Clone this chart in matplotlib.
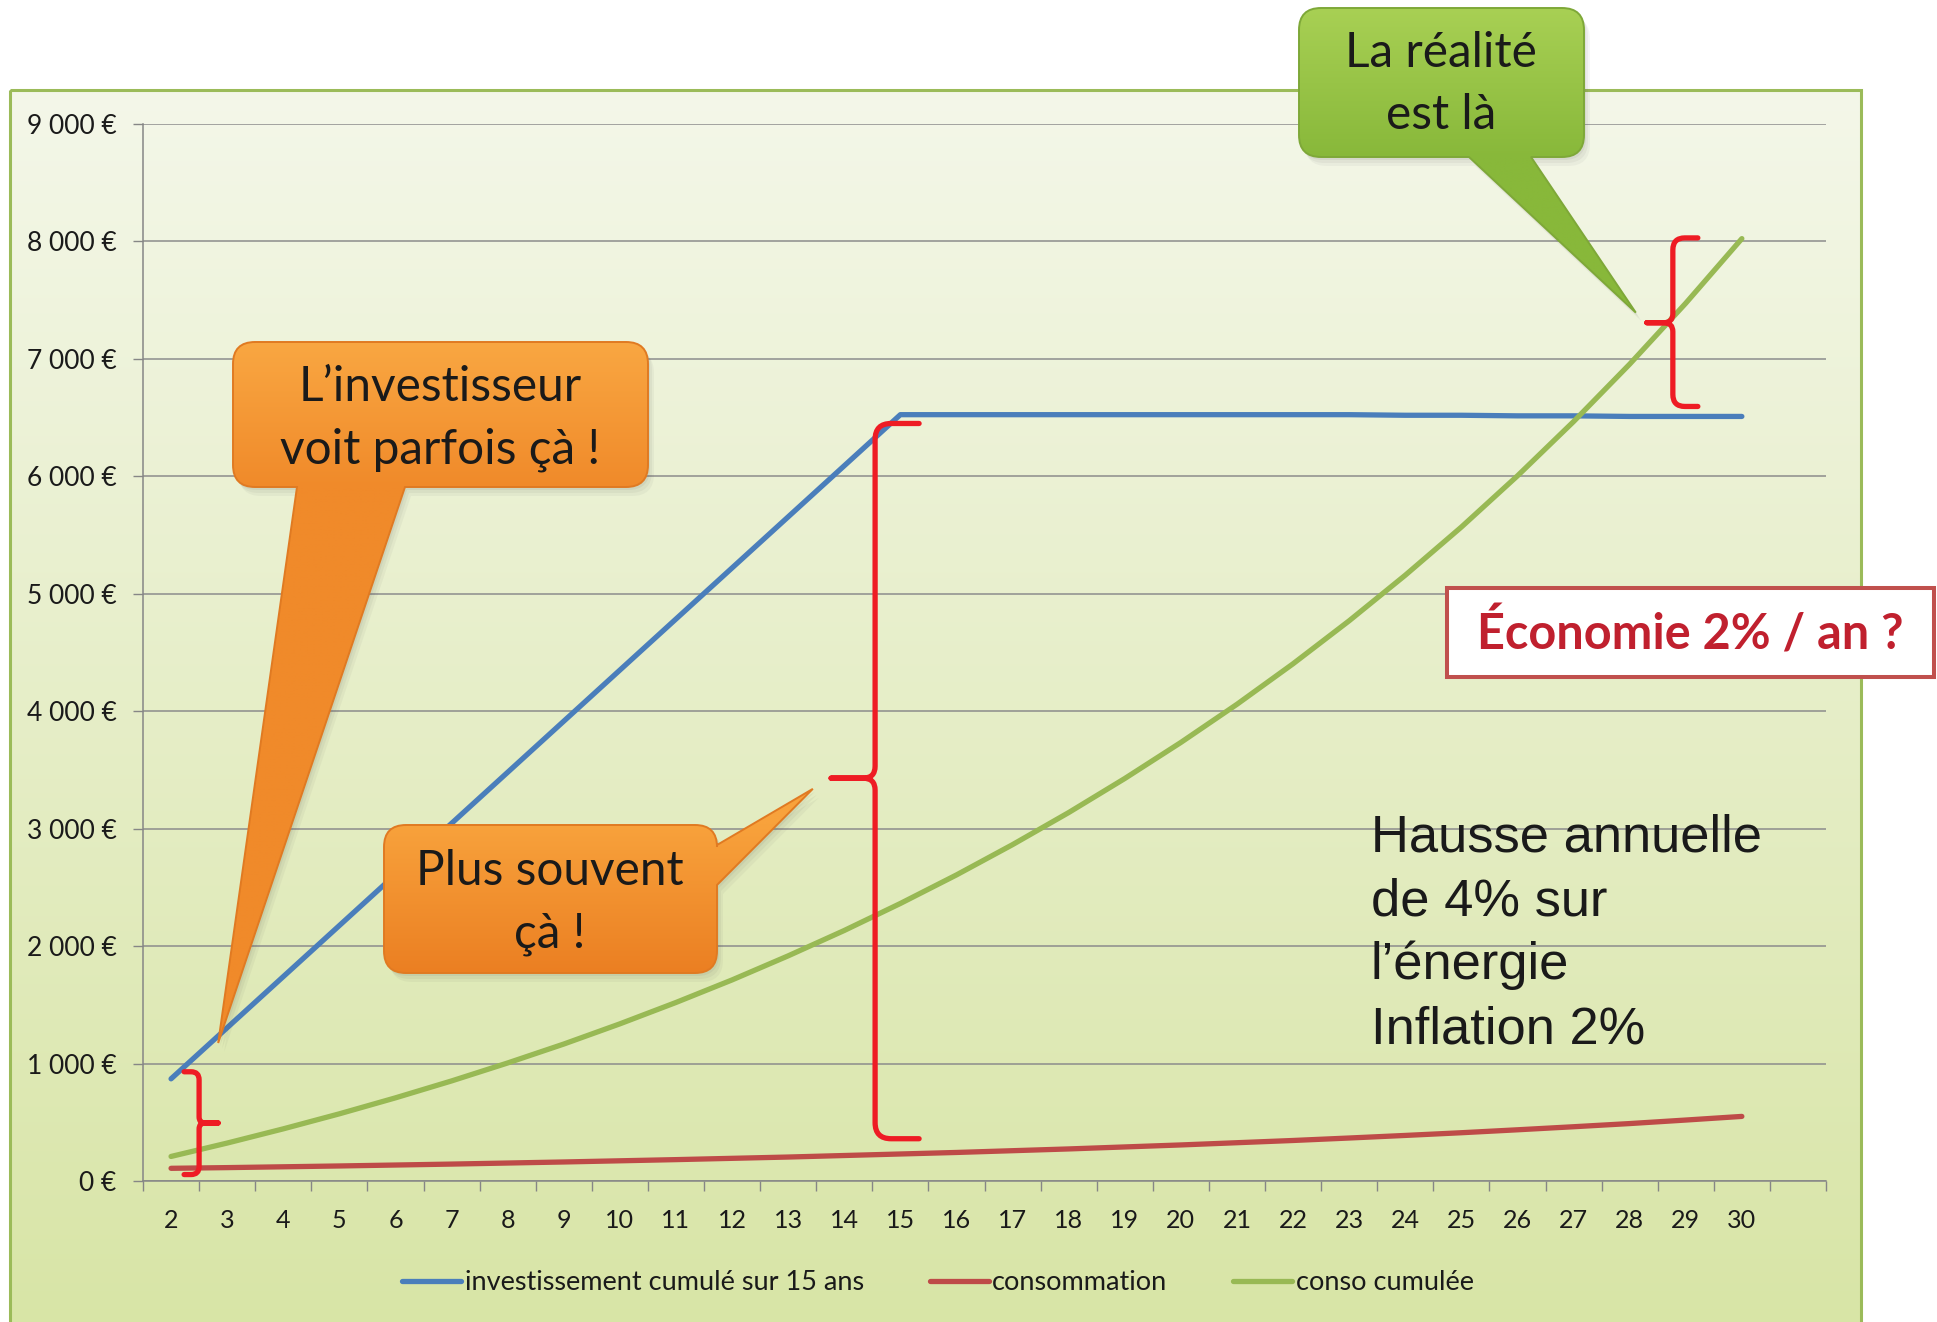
import numpy as np
import matplotlib
matplotlib.use("Agg")
import matplotlib.pyplot as plt
from matplotlib.path import Path
from matplotlib.patches import PathPatch, Rectangle
from matplotlib.transforms import Affine2D
from matplotlib.colors import to_rgb

# ---- data -------------------------------------------------------------
annees = [2, 3, 4, 5, 6, 7, 8, 9, 10, 11, 12, 13, 14, 15, 16,
          17, 18, 19, 20, 21, 22, 23, 24, 25, 26, 27, 28, 29, 30]
investissement = [870, 1305, 1740, 2175, 2610, 3045, 3480, 3915, 4350, 4785,
                  5220, 5655, 6090, 6525, 6525, 6525, 6525, 6525, 6525, 6525,
                  6525, 6525, 6520, 6520, 6515, 6515, 6510, 6510, 6510]
consommation = [108, 114, 121, 128, 136, 144, 153, 162, 172, 182,
                193, 204, 217, 230, 243, 258, 273, 290, 307, 326,
                345, 366, 388, 411, 436, 462, 489, 519, 550]
conso_cumulee = [209, 323, 444, 572, 708, 852, 1005, 1166, 1338, 1520,
                 1712, 1917, 2133, 2363, 2606, 2864, 3137, 3427, 3734, 4059,
                 4404, 4770, 5158, 5568, 6004, 6466, 6955, 7474, 8024]
y_ticks = [0, 1000, 2000, 3000, 4000, 5000, 6000, 7000, 8000, 9000]
series_labels = ["investissement cumulé sur 15 ans", "consommation", "conso cumulée"]
series_colors = ["#4A7EBB", "#BE4B48", "#98B954"]

W, H = 1937, 1322
plt.rcParams['font.family'] = ['Lato', 'DejaVu Sans']

fig = plt.figure(figsize=(W / 100, H / 100), dpi=100)
fig.patch.set_facecolor('white')
renderer = fig.canvas.get_renderer()


def fit_size(text, target_px, **kw):
    t = fig.text(0, 0, text, fontsize=20, **kw)
    w = t.get_window_extent(renderer).width
    t.remove()
    return 20 * target_px / w


def vgrad(c_top, c_bot, n=256):
    a = np.array(to_rgb(c_top))
    b = np.array(to_rgb(c_bot))
    t = np.linspace(0, 1, n)[:, None, None]
    return a + (b - a) * t


# ---- background frame ------------------------------------------------------
bg = fig.add_axes([0, 0, 1, 1], zorder=0)
bg.axis('off')
bg.set_xlim(0, W)
bg.set_ylim(H, 0)
bg.imshow(vgrad('#F4F7E9', '#D8E5A6'), extent=(10, 1861, 1330, 90),
          aspect='auto', interpolation='bilinear')
bg.add_patch(Rectangle((10, 90), 1851, 1260, fill=False, ec='#9BBB59', lw=2.2))

# ---- main chart ----------------------------------------------------------
ax = fig.add_axes([143 / W, 1 - 1181 / H, (1826 - 143) / W, (1181 - 124) / H], zorder=1)
ax.patch.set_alpha(0)
for vals, col, lab in zip([investissement, consommation, conso_cumulee],
                          series_colors, series_labels):
    ax.plot(annees, vals, color=col, lw=3.8, solid_capstyle='round', zorder=3, label=lab)

ax.set_xlim(1.5, 31.5)
ax.set_ylim(0, 9000)

sy = fit_size("9 000 €", 90)
sx = fit_size("20", 29)
ax.set_yticks(y_ticks)
ax.set_yticklabels([f"{v:,}".replace(",", " ") + " €" for v in y_ticks])
ax.set_xticks(annees)
ax.set_xticklabels([str(a) for a in annees])
ax.set_xticks(np.arange(1.5, 32, 1), minor=True)
ax.tick_params(axis='x', which='major', length=0, pad=20, labelsize=sx, labelcolor='#1A1A1A')
ax.tick_params(axis='x', which='minor', length=7, width=1, color='#868686', direction='out')
ax.tick_params(axis='y', which='major', length=7, width=1, color='#868686',
               direction='out', pad=12, labelsize=sy, labelcolor='#1A1A1A')
ax.grid(axis='y', color='#8C8C8C', lw=1.1)
ax.set_axisbelow(True)
for s in ['top', 'right']:
    ax.spines[s].set_visible(False)
for s in ['left', 'bottom']:
    ax.spines[s].set_color('#868686')
    ax.spines[s].set_linewidth(1.1)

sl = fit_size(series_labels[0], 402)
fs_px = sl * 100 / 72
leg = ax.legend(loc='center', bbox_to_anchor=(938 / W, 1 - 1283 / H),
                bbox_transform=fig.transFigure, ncol=3, frameon=False, fontsize=sl,
                handlelength=59 / fs_px, handletextpad=0.12, columnspacing=66 / fs_px)
for t in leg.get_texts():
    t.set_color('#1A1A1A')


def to_px(x, y):
    X, Y = ax.transData.transform((x, y))
    return X, H - Y


# ---- annotation layer (pixel coordinates, y downwards) -------------------------
ov = fig.add_axes([0, 0, 1, 1], zorder=3)
ov.axis('off')
ov.patch.set_alpha(0)
ov.set_xlim(0, W)
ov.set_ylim(H, 0)

M, L, Q, C = Path.MOVETO, Path.LINETO, Path.CURVE3, Path.CLOSEPOLY


def callout(box, r, tail, tip, c_top, c_bot, c_edge):
    x0, y0, x1, y1 = box
    v, c = [], []

    def add(code, *pts):
        for p in pts:
            v.append(p)
            c.append(code)
    add(M, (x0 + r, y0))
    add(L, (x1 - r, y0))
    add(Q, (x1, y0), (x1, y0 + r))
    if tail[0] == 'right':
        add(L, (x1, tail[1]), tip, (x1, tail[2]))
    add(L, (x1, y1 - r))
    add(Q, (x1, y1), (x1 - r, y1))
    if tail[0] == 'bottom':
        add(L, (tail[2], y1), tip, (tail[1], y1))
    add(L, (x0 + r, y1))
    add(Q, (x0, y1), (x0, y1 - r))
    add(L, (x0, y0 + r))
    add(Q, (x0, y0), (x0 + r, y0))
    add(C, (x0 + r, y0))
    path = Path(v, c)

    for dx, dy, a in [(2, 3, 0.07), (4, 6, 0.06), (6, 9, 0.05)]:
        sp = path.transformed(Affine2D().translate(dx, dy))
        ov.add_patch(PathPatch(sp, fc=(0.3, 0.3, 0.3, a), ec='none', zorder=1))

    xs = [p[0] for p in v]
    ys = [p[1] for p in v]
    ymin, ymax = min(ys), max(ys)
    rows = np.linspace(ymin, ymax, 256)
    t = np.clip((rows - y0) / (y1 - y0), 0, 1)[:, None, None]
    a = np.array(to_rgb(c_top))
    b = np.array(to_rgb(c_bot))
    img = a + (b - a) * t
    fill = PathPatch(path, fc='none', ec='none', zorder=2)
    ov.add_patch(fill)
    im = ov.imshow(img, extent=(min(xs), max(xs), ymax, ymin), aspect='auto',
                   interpolation='bilinear', zorder=2)
    im.set_clip_path(fill)
    ov.add_patch(PathPatch(path, fc='none', ec=c_edge, lw=1.4, zorder=3))


def brace(xd, top_v, bot_v, mid_v, tip_dx, hook_dx, r, rm):
    xs, yt = to_px(xd, top_v)
    _, yb = to_px(xd, bot_v)
    _, ym = to_px(xd, mid_v)
    sh, st = np.sign(hook_dx), np.sign(tip_dx)
    verts = [(xs + hook_dx, yt), (xs + sh * r, yt), (xs, yt), (xs, yt + r),
             (xs, ym - rm), (xs, ym), (xs + st * rm, ym), (xs + tip_dx, ym),
             (xs + st * rm, ym), (xs, ym), (xs, ym + rm),
             (xs, yb - r), (xs, yb), (xs + sh * r, yb), (xs + hook_dx, yb)]
    codes = [M, L, Q, Q, L, Q, Q, L, L, Q, Q, L, Q, Q, L]
    ov.add_patch(PathPatch(Path(verts, codes), fc='none', ec='#EE1C24', lw=3.8,
                           capstyle='round', joinstyle='round', zorder=5))


# braces
brace(2.5, 930, 55, 494, 19, -15, 8, 6)
brace(14.55, 6450, 360, 3430, -44, 44, 16, 12)
brace(28.77, 8030, 6595, 7308, -26, 25, 12, 9)

# callouts
callout((233, 342, 648, 487), 22, ('bottom', 297, 405), to_px(2.84, 1175),
        '#F9A742', '#F08A2A', '#E07A22')
callout((384, 825, 717, 973), 22, ('right', 845, 885), to_px(13.44, 3339),
        '#F8A23C', '#EB7F22', '#E07A22')
callout((1299, 8, 1584, 157), 22, ('bottom', 1469, 1531), to_px(28.11, 7394),
        '#A8D054', '#88B83A', '#7EA838')

sc = fit_size("Plus souvent", 268)
txt = dict(ha='center', va='baseline', fontsize=sc, color='#1A1A1A', zorder=6)
ov.text(440, 401, "L’investisseur", **txt)
ov.text(440, 464, "voit parfois çà !", **txt)
ov.text(550, 885, "Plus souvent", **txt)
ov.text(550, 948, "çà !", **txt)
ov.text(1441, 67, "La réalité", **txt)
ov.text(1441, 129, "est là", **txt)

# savings box
ov.add_patch(Rectangle((1447, 588), 487, 89, fc='white', ec='#C0504D', lw=2.9, zorder=4))
se = fit_size("Économie 2% / an ?", 426, fontweight='bold')
ov.text(1690, 650, "Économie 2% / an ?", ha='center', va='baseline', fontsize=se,
        fontweight='bold', color='#C0202E', zorder=6)

# assumptions
sh_ = fit_size("Hausse annuelle", 390, family=['Liberation Sans', 'DejaVu Sans'])
for line, yb in zip(["Hausse annuelle", "de 4% sur", "l’énergie", "Inflation 2%"],
                    [852, 916, 979, 1043]):
    ov.text(1371, yb, line, ha='left', va='baseline', fontsize=sh_,
            family=['Liberation Sans', 'DejaVu Sans'], color='#1A1A1A', zorder=6)

fig.savefig("out.png", dpi=100, facecolor='white')
